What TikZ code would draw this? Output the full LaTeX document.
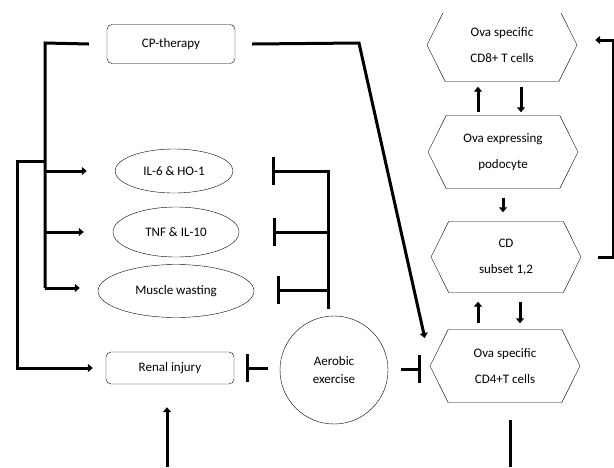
\documentclass[tikz,border=0pt]{standalone}
\usepackage{fontspec}
\setmainfont{Carlito}
\usetikzlibrary{arrows.meta, calc, shapes.geometric, shapes.symbols}

\begin{document}
\begin{tikzpicture}[x=1pt, y=-1pt, font=\fontsize{13}{18}\selectfont,
    box/.style={draw, rounded corners=5pt, minimum width=128pt, minimum height=39pt},
    oval/.style={draw, ellipse, inner sep=0pt},
    hexa/.style={draw, signal, signal to=east and west, signal pointer angle=127,
        minimum width=150pt, minimum height=73pt, inner sep=0pt, align=center,
        font=\fontsize{13}{26}\selectfont},
    link/.style={line width=3pt},
    tip/.style={line width=3pt, -{Triangle[length=5pt, width=8pt]}},
    block/.style={line width=3pt, -{Bar[width=28pt]}}]
    \useasboundingbox (0,0) rectangle (614,467);

    % left column
    \node [box] (cp) at (171,44) {CP-therapy};
    \node [oval, minimum width=118pt, minimum height=44pt] (il6) at (174,171) {IL-6 \& HO-1};
    \node [oval, minimum width=126pt, minimum height=50pt] (tnf) at (176,232) {TNF \& IL-10};
    \node [oval, minimum width=156pt, minimum height=53pt] (muscle) at (176,291) {Muscle wasting};
    \node [box, minimum height=32pt] (renal) at (170,368) {Renal injury};
    \node [draw, circle, minimum size=108pt, align=center] (aero) at (334,370) {Aerobic\\exercise};

    % right column
    \begin{scope}
        \clip (0,13) rectangle (614,467);
        \node [hexa] (cd8) at (502,45) {Ova specific\\CD8+ T cells};
    \end{scope}
    \node [hexa] (podo) at (503,152) {Ova expressing\\podocyte};
    \node [hexa, minimum height=71pt] (cd) at (506,257) {CD\\subset 1,2};
    \node [hexa] (cd4) at (505,366) {Ova specific\\CD4+T cells};

    % CP-therapy branches
    \coordinate (t1) at (45,43);
    \draw [link] ([xshift=-18pt]cp.west) -- (t1) -- (45,288);
    \draw [tip] (t1 |- il6.west) -- ([xshift=-28pt]il6.west);
    \draw [tip] (t1 |- tnf.west) -- ([xshift=-29pt]tnf.west);
    \draw [tip] (45,288) -- ([xshift=-18pt,yshift=3pt]muscle.west);
    \draw [tip] (45,161) -| ([xshift=-88pt]renal.west) -- ([xshift=-13pt]renal.west);
    \draw [tip] ([xshift=-3pt]renal.south |- 0,467) -- ([xshift=-3pt,yshift=-23pt]renal.south);
    \draw [tip] ([xshift=17pt]cp.east) -- (359,43) -- ([xshift=-5pt,yshift=28pt]cd4.west);

    % aerobic exercise blocks
    \coordinate (t2) at ([xshift=-6pt]aero.north |- il6.east);
    \draw [link] ([xshift=-6pt,yshift=7pt]aero.north) -- ([yshift=1.5pt]t2);
    \draw [block] (t2) -- ([xshift=39pt]il6.east);
    \draw [block] (t2 |- tnf.east) -- ([xshift=34pt]tnf.east);
    \draw [block] ([yshift=1pt]t2 |- muscle.east) -- ([xshift=23pt,yshift=1pt]muscle.east);
    \draw [block] ([xshift=-12pt]aero.west |- renal.east) -- ([xshift=12pt]renal.east);
    \draw [block] ([xshift=13pt,yshift=1pt]aero.east) -- ([xshift=-9pt,yshift=1pt]cd4.west |- aero.east);

    % hexagon links
    \draw [tip] ([xshift=-25pt,yshift=3pt]podo.north) -- ([xshift=-25pt,yshift=-5pt]podo.north |- cd8.south);
    \draw [tip] ([xshift=18pt,yshift=-5pt]podo.north |- cd8.south) -- ([xshift=18pt,yshift=3pt]podo.north);
    \draw [tip] ([yshift=-9pt]podo.south) -- ([yshift=9pt]podo.south |- cd.north);
    \draw [tip] ([xshift=-28pt,yshift=6pt]cd.south |- cd4.north) -- ([xshift=-28pt,yshift=-9pt]cd.south);
    \draw [tip] ([xshift=14pt,yshift=-9pt]cd.south) -- ([xshift=14pt,yshift=6pt]cd.south |- cd4.north);
    \draw [tip] ([xshift=17pt]cd.east) -| ([xshift=36pt,yshift=5pt]cd8.east) -- ([xshift=18pt,yshift=5pt]cd8.east);
    \draw [link] ([xshift=5pt,yshift=-17pt]cd4.south) -- ([xshift=5pt]cd4.south |- 0,467);
\end{tikzpicture}
\end{document}
